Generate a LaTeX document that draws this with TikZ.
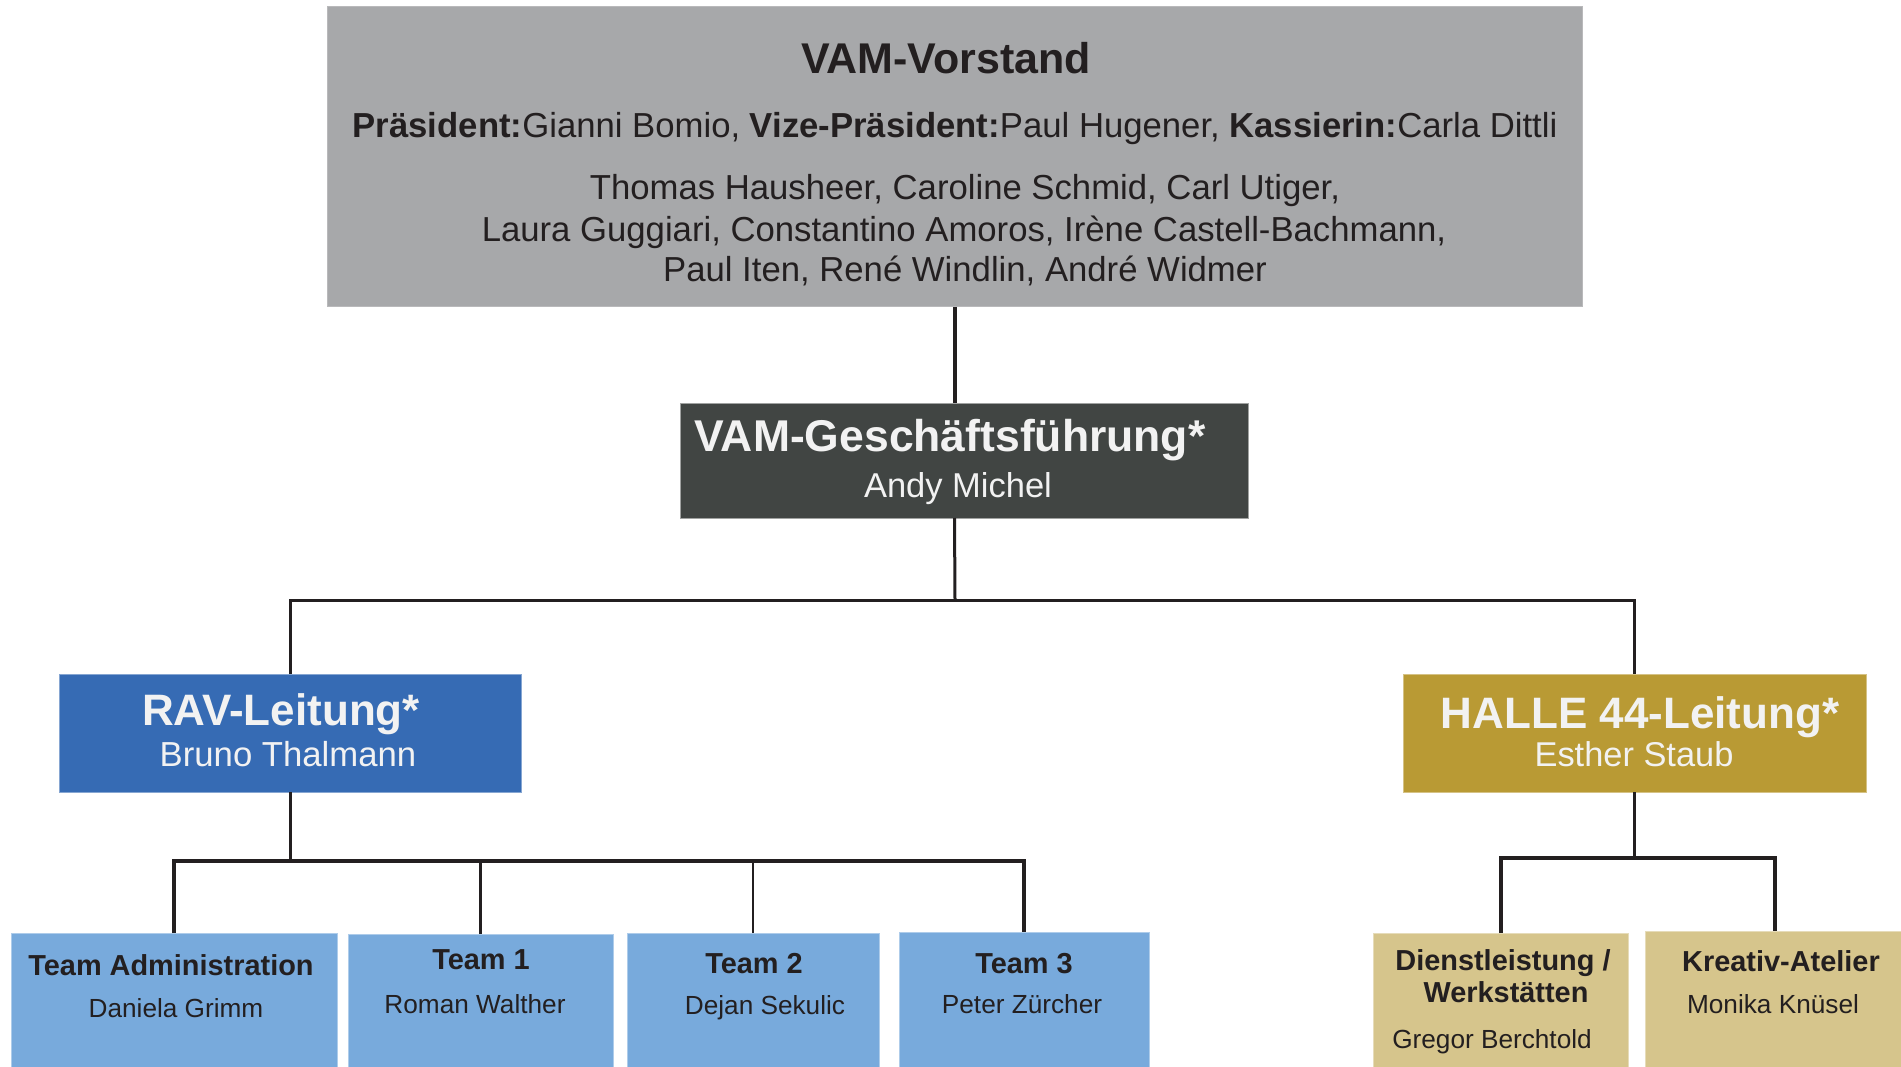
\documentclass[tikz,border=0pt]{standalone}
\usepackage{fontspec}
\setmainfont{Liberation Sans}
\definecolor{cVorstand}{HTML}{A7A8AA}
\definecolor{cGF}{HTML}{414543}
\definecolor{cRAV}{HTML}{366BB4}
\definecolor{cHalle}{HTML}{B99A34}
\definecolor{cTeam}{HTML}{78AADC}
\definecolor{cTan}{HTML}{D6C58C}
\definecolor{cDark}{HTML}{231F20}
\definecolor{cLight}{HTML}{F2F2F2}
\newcommand\fsz[1]{\fontsize{#1}{#1}\selectfont}
\begin{document}
\begin{tikzpicture}[x=1pt,y=-1pt,
  orgbox/.style={rectangle,inner sep=0pt,outer sep=0pt,anchor=north west,line width=1pt},
  tdark/.style={inner sep=0pt,anchor=base,text=cDark},
  tlight/.style={inner sep=0pt,anchor=base,text=cLight},
  conn/.style={draw=cDark,line width=3pt}]
\useasboundingbox (0,0) rectangle (1901,1067);
\fill[white] (0,0) rectangle (1901,1067);
% boxes
\node[orgbox,fill=cVorstand,draw=cVorstand!80!white,minimum width=1255pt,minimum height=300pt] (vorstand) at (327,7) {};
\node[orgbox,fill=cGF,draw=cGF!50!white,minimum width=568pt,minimum height=115pt] (gf) at (680,403) {};
\node[orgbox,fill=cRAV,draw=cRAV!60!white,minimum width=462pt,minimum height=118pt] (rav) at (59,674) {};
\node[orgbox,fill=cHalle,draw=cHalle!60!white,minimum width=463pt,minimum height=118pt] (halle) at (1403,674) {};
\node[orgbox,fill=cTeam,draw=cTeam!60!white,minimum width=326pt,minimum height=140pt] (tadmin) at (11,933) {};
\node[orgbox,fill=cTeam,draw=cTeam!60!white,minimum width=265pt,minimum height=140pt] (team1) at (348,934) {};
\node[orgbox,fill=cTeam,draw=cTeam!60!white,minimum width=252pt,minimum height=140pt] (team2) at (627,933) {};
\node[orgbox,fill=cTeam,draw=cTeam!60!white,minimum width=250pt,minimum height=140pt] (team3) at (899,932) {};
\node[orgbox,fill=cTan,draw=cTan!60!white,minimum width=255pt,minimum height=140pt] (dienst) at (1373,933) {};
\node[orgbox,fill=cTan,draw=cTan!60!white,minimum width=260pt,minimum height=140pt] (kreativ) at (1645,931) {};
% junctions
\coordinate (j1) at (955,600);
\coordinate (j2) at (291,861);
\coordinate (j3) at (1637,858);
% connectors
\draw[conn,line width=4pt] (vorstand.south) -- (vorstand.south |- gf.north);
\draw[conn] (vorstand.south |- gf.south) -- (j1);
\draw[conn] (rav.north) |- (halle.north |- j1) -- (halle.north);
\draw[conn] (rav.south) -- (rav.south |- j2);
\draw[conn,line width=3.5pt] (tadmin.north) |- (team3.north |- j2) -- (team3.north);
\draw[conn,line width=2.5pt] (team1.north) -- (team1.north |- j2);
\draw[conn,line width=2.5pt] (team2.north) -- (team2.north |- j2);
\draw[conn] (halle.south) -- (halle.south |- j3);
\draw[conn,line width=4pt] (dienst.north) |- (kreativ.north |- j3) -- (kreativ.north);
% texts
\node[tdark,font={\fsz{43}\bfseries}] (tv1) at (946,74) {VAM-Vorstand};
\node[tdark,font={\fsz{34.7}}] (tv2) at (955,138) {{\bfseries Präsident:}Gianni Bomio, {\bfseries Vize-Präsident:}Paul Hugener, {\bfseries Kassierin:}Carla Dittli};
\node[tdark,font={\fsz{34.7}}] (tv3) at (965,200) {Thomas Hausheer, Caroline Schmid, Carl Utiger,};
\node[tdark,font={\fsz{34.7}}] (tv4) at (964,242) {Laura Guggiari, Constantino Amoros, Irène Castell-Bachmann,};
\node[tdark,font={\fsz{34.7}}] (tv5) at (965,282) {Paul Iten, René Windlin, André Widmer};
\node[tlight,font={\fsz{44.5}\bfseries}] (tg1) at (950,451) {VAM-Geschäftsführung*};
\node[tlight,font={\fsz{34.5}}] (tg2) at (958,497) {Andy Michel};
\node[tlight,font={\fsz{44}\bfseries}] (tr1) at (281,725) {RAV-Leitung*};
\node[tlight,font={\fsz{34.7}}] (tr2) at (288,766) {Bruno Thalmann};
\node[tlight,font={\fsz{44}\bfseries}] (th1) at (1640,728) {HALLE 44-Leitung*};
\node[tlight,font={\fsz{34.4}}] (th2) at (1634,766) {Esther Staub};
\node[tdark,font={\fsz{28.9}\bfseries}] (ta1) at (171,975) {Team Administration};
\node[tdark,font={\fsz{26.2}}] (ta2) at (176,1017) {Daniela Grimm};
\node[tdark,font={\fsz{28.9}\bfseries}] (t11) at (481,969) {Team 1};
\node[tdark,font={\fsz{26.2}}] (t12) at (475,1013) {Roman Walther};
\node[tdark,font={\fsz{28.9}\bfseries}] (t21) at (754,973) {Team 2};
\node[tdark,font={\fsz{26.2}}] (t22) at (765,1014) {Dejan Sekulic};
\node[tdark,font={\fsz{28.9}\bfseries}] (t31) at (1024,973) {Team 3};
\node[tdark,font={\fsz{26.2}}] (t32) at (1022,1013) {Peter Zürcher};
\node[tdark,font={\fsz{28.9}\bfseries}] (td1) at (1503,970) {Dienstleistung /};
\node[tdark,font={\fsz{28.9}\bfseries}] (td2) at (1506,1002) {Werkstätten};
\node[tdark,font={\fsz{26.2}}] (td3) at (1492,1048) {Gregor Berchtold};
\node[tdark,font={\fsz{28.9}\bfseries}] (tk1) at (1781,971) {Kreativ-Atelier};
\node[tdark,font={\fsz{26.2}}] (tk2) at (1773,1013) {Monika Knüsel};
\end{tikzpicture}
\end{document}
